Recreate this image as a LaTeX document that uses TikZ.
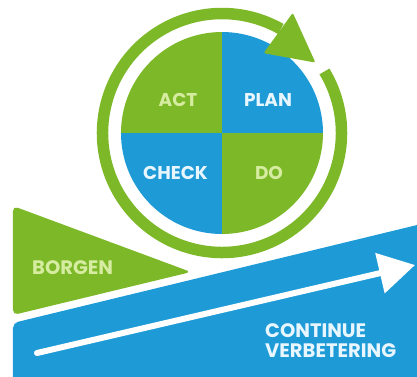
\documentclass[tikz,border=0pt]{standalone}
\usepackage{fontspec}
\setmainfont{Poppins}
\usetikzlibrary{arrows.meta}
\definecolor{pdcagreen}{RGB}{124,184,40}
\definecolor{pdcablue}{RGB}{30,155,215}
\definecolor{palegreen}{RGB}{214,236,160}
\definecolor{paleblue}{RGB}{232,246,255}
\tikzset{
  label/.style={font=\bfseries\fontsize{18.5}{20}\selectfont, inner sep=0pt},
  biglabel/.style={font=\bfseries\fontsize{19.5}{20}\selectfont},
  ongreen/.style={label, text=palegreen},
  onblue/.style={label, text=paleblue}
}
\begin{document}
\begin{tikzpicture}[x=1pt,y=1pt]
\useasboundingbox (-222,-243) rectangle (195,133);
\clip (-222,-243) rectangle (195,133);
% pie
\fill[pdcagreen] (0,0) -- (90:101) arc (90:180:101) -- cycle;
\fill[pdcablue] (0,0) -- (0:101) arc (0:90:101) -- cycle;
\fill[pdcablue] (0,0) -- (180:101) arc (180:270:101) -- cycle;
\fill[pdcagreen] (0,0) -- (270:101) arc (270:360:101) -- cycle;
% ring and arrow head
\draw[pdcagreen, line width=11.5pt] (31:119.5) arc (31:-299.5:119.5);
\fill[pdcagreen, rounded corners=2pt] (62.5:90) -- (59.5:139.5) -- (37:117) -- cycle;
\node[ongreen] (act) at (-44,33) {ACT};
\node[onblue] (plan) at (46,33) {PLAN};
\node[onblue] (check) at (-46.5,-40) {CHECK};
\node[ongreen] (do) at (47,-40) {DO};
% borgen
\fill[pdcagreen, rounded corners=5pt] (-209,-73) -- (-31,-139) -- (-209,-182) -- cycle;
\node[ongreen, biglabel, anchor=west] (borgen) at (-190,-135) {BORGEN};
% continue verbetering
\fill[pdcablue, rounded corners=5pt] (-209,-250) -- (-209,-190) -- (205,-89.6) -- (205,-250) -- cycle;
\coordinate (start) at (-185,-220);
\coordinate (tip) at (193,-132);
\draw[white, line width=6pt, line cap=round, -{Triangle[length=36pt,width=40pt]}] (start) -- (tip);
\node[onblue, biglabel, anchor=west, align=left] (cv) at (43,-208) {CONTINUE\\VERBETERING};
\end{tikzpicture}
\end{document}
